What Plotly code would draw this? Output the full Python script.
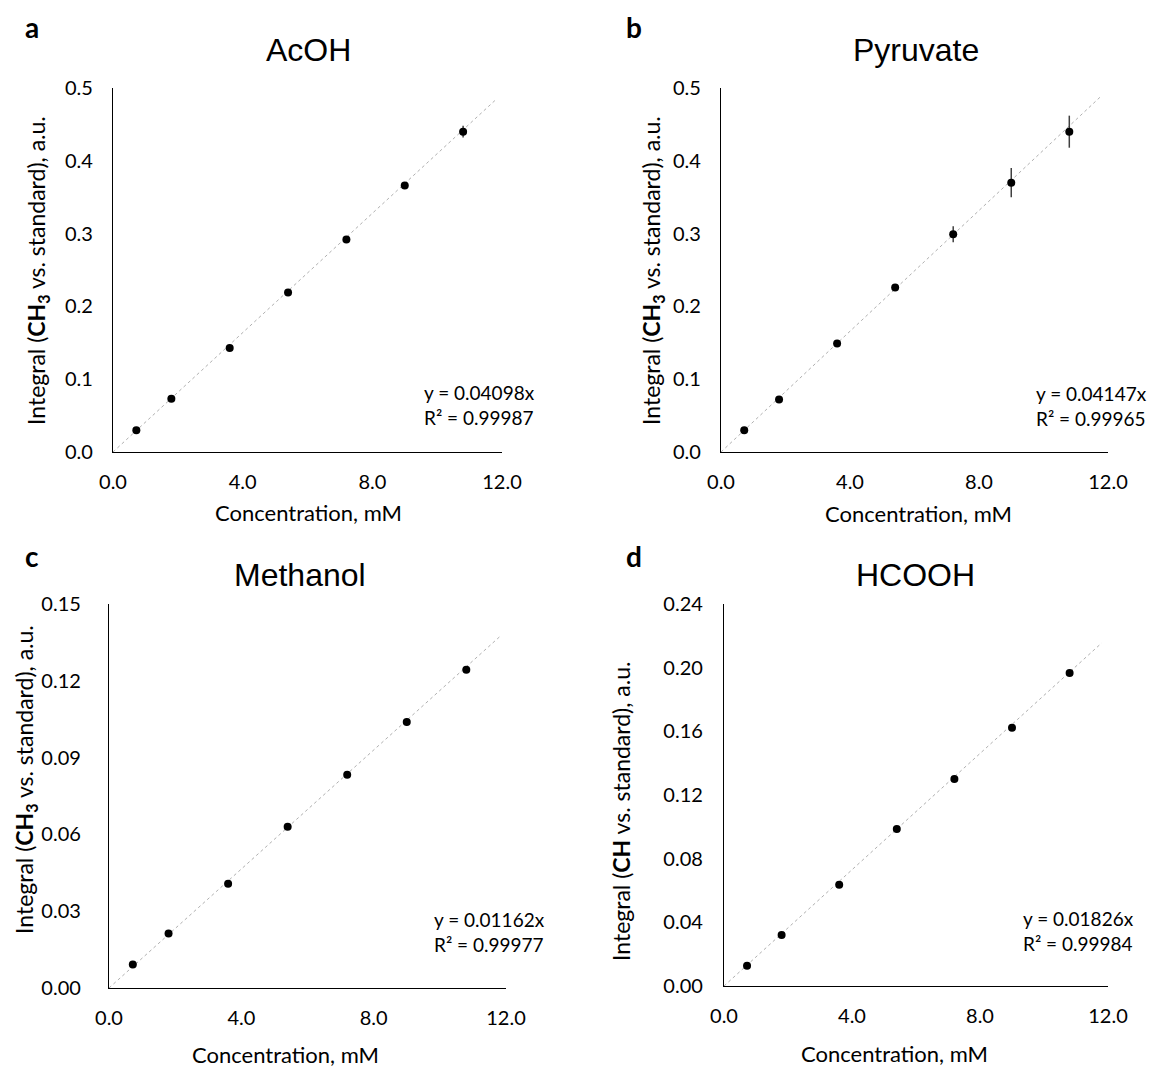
import plotly.graph_objects as go

# Calibration data: concentration (mM) vs. integral relative to internal standard
conc = [0.72, 1.8, 3.6, 5.4, 7.2, 9.0, 10.8]

acoh = [0.030, 0.073, 0.143, 0.219, 0.292, 0.366, 0.440]
acoh_err = [0.001, 0.001, 0.002, 0.002, 0.002, 0.002, 0.008]

pyruvate = [0.030, 0.072, 0.149, 0.226, 0.299, 0.370, 0.440]
pyruvate_err = [0.002, 0.002, 0.003, 0.003, 0.011, 0.020, 0.022]

methanol = [0.0092, 0.0213, 0.0407, 0.0630, 0.0833, 0.1039, 0.1243]
methanol_err = [0.0003, 0.0004, 0.0005, 0.0005, 0.0006, 0.0015, 0.0008]

hcooh = [0.0128, 0.0321, 0.0636, 0.0987, 0.1300, 0.1622, 0.1966]
hcooh_err = [0.0005, 0.0005, 0.0006, 0.0008, 0.0010, 0.0010, 0.0012]

slopes = [0.04098, 0.04147, 0.01162, 0.01826]
r2 = ["0.99987", "0.99965", "0.99977", "0.99984"]
titles = ["AcOH", "Pyruvate", "Methanol", "HCOOH"]
letters = ["a", "b", "c", "d"]
x_title = "Concentration, mM"
y_titles = [
    "Integral (<b>CH<sub>3</sub></b> vs. standard), a.u.",
    "Integral (<b>CH<sub>3</sub></b> vs. standard), a.u.",
    "Integral (<b>CH<sub>3</sub></b> vs. standard), a.u.",
    "Integral (<b>CH</b> vs. standard), a.u.",
]
y_ranges = [[0, 0.5], [0, 0.5], [0, 0.15], [0, 0.24]]
y_dticks = [0.1, 0.1, 0.03, 0.04]
y_formats = [".1f", ".1f", ".2f", ".2f"]
trend_x = [0, 11.8]

W, H = 1149, 1068
# plot-area boxes in pixels: (left, right, top, bottom)
boxes = [(113, 502, 88, 452), (721, 1108, 88, 452),
         (109, 506, 604, 988), (724, 1108, 604, 986)]
y_tick_pad = [15, 15, 23, 16]
# label placements in pixels
eq_pos = [(422, 405), (1034, 406), (432, 932), (1021, 931)]
title_pos = [(308, 50), (916, 50), (300, 575), (916, 575)]
letter_pos = [(32, 27), (634, 27), (32, 556), (634, 556)]
xtitle_pos = [(308, 512), (918, 513), (285, 1054), (894, 1053)]
ytitle_pos = [(37, 271), (652, 271), (25, 780), (621, 812)]

series = [(acoh, acoh_err), (pyruvate, pyruvate_err),
          (methanol, methanol_err), (hcooh, hcooh_err)]

fig = go.Figure()
text_font = "Lato, Open Sans, sans-serif"
annotations = []


def paper(px, py):
    return px / W, 1 - py / H


for i, ((ys, errs), box) in enumerate(zip(series, boxes)):
    n = "" if i == 0 else str(i + 1)
    xa, ya = "x" + n, "y" + n
    fig.add_trace(go.Scatter(
        x=trend_x, y=[slopes[i] * v for v in trend_x], mode="lines",
        line=dict(color="#b0b0b0", width=1, dash="dot"),
        xaxis=xa, yaxis=ya, showlegend=False, hoverinfo="skip"))
    fig.add_trace(go.Scatter(
        x=conc, y=ys, mode="markers",
        marker=dict(color="black", size=8),
        error_y=dict(type="data", array=errs, visible=True,
                     color="#404040", thickness=1.5, width=0),
        xaxis=xa, yaxis=ya, showlegend=False))

    l, r, t, b = box
    xdom = [l / W, r / W]
    ydom = [1 - b / H, 1 - t / H]
    axis_common = dict(showline=True, linecolor="black", linewidth=1.3,
                       showgrid=False, zeroline=False, automargin=False,
                       ticks="outside", tickcolor="rgba(0,0,0,0)",
                       tickfont=dict(family=text_font, size=20, color="black"))
    fig.update_layout(**{
        "xaxis" + n: dict(domain=xdom, range=[0, 12], dtick=4, tick0=0,
                          tickformat=".1f", anchor=ya, ticklen=12,
                          **axis_common),
        "yaxis" + n: dict(domain=ydom, range=y_ranges[i], dtick=y_dticks[i],
                          tick0=0, tickformat=y_formats[i], anchor=xa,
                          ticklen=y_tick_pad[i], **axis_common),
    })

    tx, ty = paper(*title_pos[i])
    annotations.append(dict(
        text=titles[i], x=tx, y=ty, xref="paper", yref="paper",
        showarrow=False, xanchor="center", yanchor="middle",
        font=dict(family="Liberation Sans, Arial, sans-serif", size=32, color="black")))
    lx, ly = paper(*letter_pos[i])
    annotations.append(dict(
        text="<b>" + letters[i] + "</b>", x=lx, y=ly,
        xref="paper", yref="paper", showarrow=False, xanchor="center", yanchor="middle",
        font=dict(family=text_font, size=28, color="black")))
    ex, ey = paper(*eq_pos[i])
    annotations.append(dict(
        text=f"y = {slopes[i]:.5f}x<br>R² = {r2[i]}",
        x=ex, y=ey, xref="paper", yref="paper",
        showarrow=False, xanchor="left", yanchor="middle", align="left",
        font=dict(family=text_font, size=19, color="black")))
    xx, xy = paper(*xtitle_pos[i])
    annotations.append(dict(
        text=x_title, x=xx, y=xy, xref="paper", yref="paper",
        showarrow=False, xanchor="center", yanchor="middle",
        font=dict(family=text_font, size=22, color="black")))
    yx, yy = paper(*ytitle_pos[i])
    annotations.append(dict(
        text=y_titles[i], x=yx, y=yy, xref="paper", yref="paper", textangle=-90,
        showarrow=False, xanchor="center", yanchor="middle",
        font=dict(family=text_font, size=23, color="black")))

fig.update_layout(
    width=W, height=H, margin=dict(l=0, r=0, t=0, b=0),
    paper_bgcolor="white", plot_bgcolor="white",
    annotations=annotations,
)

fig.write_html("out.html")
